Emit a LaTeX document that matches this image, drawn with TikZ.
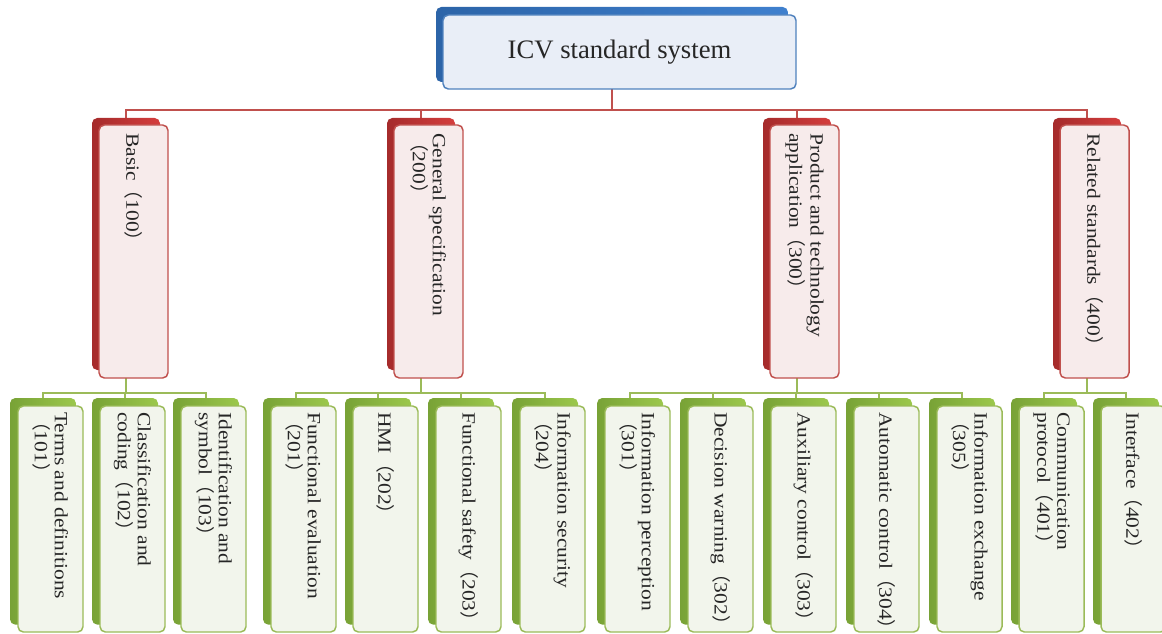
\documentclass[tikz,border=0pt]{standalone}
\usepackage{fontspec}
\setmainfont{Liberation Serif}
\newfontfamily\boxfont[FakeStretch=1.15]{Liberation Serif}
\newfontfamily\cjk{Noto Sans CJK SC}
\usetikzlibrary{backgrounds}

\definecolor{cBlue}{HTML}{3F80CE}
\definecolor{cBlueDk}{HTML}{2C64A8}
\definecolor{cBlueLine}{HTML}{4F81BD}
\definecolor{cBlueFill}{HTML}{E9EEF7}
\definecolor{cRed}{HTML}{D43D3D}
\definecolor{cRedDk}{HTML}{A52B2B}
\definecolor{cRedLine}{HTML}{C0504D}
\definecolor{cRedFill}{HTML}{F7EBEB}
\definecolor{cGreen}{HTML}{9CC84C}
\definecolor{cGreenDk}{HTML}{78A236}
\definecolor{cGreenLine}{HTML}{9BBB59}
\definecolor{cGreenFill}{HTML}{F2F5EC}
\definecolor{cText}{HTML}{262626}

% code number in full-width brackets
\newcommand{\sno}[1]{{\cjk （}#1{\cjk ）}}

\tikzset{
  box/.style={rectangle, rounded corners=4pt, inner sep=0pt, outer sep=0pt, anchor=north west},
  rootback/.style={box, left color=cBlueDk, right color=cBlue, minimum width=264pt, minimum height=56.25pt},
  rootfront/.style={box, draw=cBlueLine, line width=1.1pt, fill=cBlueFill, text=cText,
    minimum width=264.75pt, minimum height=55.5pt, font=\fontsize{20}{24}\selectfont},
  catback/.style={box, left color=cRedDk, right color=cRed, minimum width=51pt, minimum height=189pt},
  catfront/.style={box, draw=cRedLine, line width=1.1pt, fill=cRedFill, minimum width=51.75pt, minimum height=189.75pt},
  itemback/.style={box, left color=cGreenDk, right color=cGreen, minimum width=49.5pt, minimum height=170pt},
  itemfront/.style={box, draw=cGreenLine, line width=1.1pt, fill=cGreenFill, minimum width=48.75pt, minimum height=169.5pt},
  cattext/.style={rotate=-90, anchor=west, align=left, inner xsep=6pt, inner ysep=0pt, text=cText,
    font=\boxfont\fontsize{14}{15}\selectfont},
  itemtext/.style={cattext, inner xsep=4.5pt},
  redconn/.style={draw=cRedLine, line width=1.3pt},
  greenconn/.style={draw=cGreenLine, line width=1.3pt},
}

\begin{document}
\begin{tikzpicture}[x=0.75pt, y=-0.75pt]
\useasboundingbox (0,0) rectangle (1162,634);

% top
\node[rootback] (root) at (436,7) {};
\node[rootfront] (rootf) at (443,15) {ICV standard system};

% second level
\node[catback] (basic) at (92,118) {};
\node[catfront] (basicf) at (99,125) {};
\node[cattext] (basict) at (basicf.north) {Basic\sno{100}};

\node[catback] (general) at (387,118) {};
\node[catfront] (generalf) at (394,125) {};
\node[cattext] (generalt) at (generalf.north) {General specification\\\sno{200}};

\node[catback] (product) at (763,118) {};
\node[catfront] (productf) at (770,125) {};
\node[cattext] (productt) at (productf.north) {Product and technology\\application\sno{300}};

\node[catback] (related) at (1053,118) {};
\node[catfront] (relatedf) at (1060,125) {};
\node[cattext] (relatedt) at (relatedf.north) {Related standards\sno{400}};

% third level
\node[itemback] (i101) at (10,398) {};
\node[itemfront] (i101f) at (18,406) {};
\node[itemtext] (i101t) at (i101f.north) {Terms and definitions\\\sno{101}};
\node[itemback] (i102) at (92,398) {};
\node[itemfront] (i102f) at (100,406) {};
\node[itemtext] (i102t) at (i102f.north) {Classification and\\coding\sno{102}};
\node[itemback] (i103) at (173,398) {};
\node[itemfront] (i103f) at (181,406) {};
\node[itemtext] (i103t) at (i103f.north) {Identification and\\symbol\sno{103}};

\node[itemback] (i201) at (263,398) {};
\node[itemfront] (i201f) at (271,406) {};
\node[itemtext] (i201t) at (i201f.north) {Functional evaluation\\\sno{201}};
\node[itemback] (i202) at (345,398) {};
\node[itemfront] (i202f) at (353,406) {};
\node[itemtext] (i202t) at (i202f.north) {HMI\sno{202}};
\node[itemback] (i203) at (428,398) {};
\node[itemfront] (i203f) at (436,406) {};
\node[itemtext] (i203t) at (i203f.north) {Functional safety\sno{203}};
\node[itemback] (i204) at (512,398) {};
\node[itemfront] (i204f) at (520,406) {};
\node[itemtext] (i204t) at (i204f.north) {Information security\\\sno{204}};

\node[itemback] (i301) at (597,398) {};
\node[itemfront] (i301f) at (605,406) {};
\node[itemtext] (i301t) at (i301f.north) {Information perception\\\sno{301}};
\node[itemback] (i302) at (680,398) {};
\node[itemfront] (i302f) at (688,406) {};
\node[itemtext] (i302t) at (i302f.north) {Decision warning\sno{302}};
\node[itemback] (i303) at (763,398) {};
\node[itemfront] (i303f) at (771,406) {};
\node[itemtext] (i303t) at (i303f.north) {Auxiliary control\sno{303}};
\node[itemback] (i304) at (846,398) {};
\node[itemfront] (i304f) at (854,406) {};
\node[itemtext] (i304t) at (i304f.north) {Automatic control\sno{304}};
\node[itemback] (i305) at (929,398) {};
\node[itemfront] (i305f) at (937,406) {};
\node[itemtext] (i305t) at (i305f.north) {Information exchange\\\sno{305}};

\node[itemback] (i401) at (1011,398) {};
\node[itemfront] (i401f) at (1019,406) {};
\node[itemtext] (i401t) at (i401f.north) {Communication\\protocol\sno{401}};
\node[itemback] (i402) at (1093,398) {};
\node[itemfront] (i402f) at (1101,406) {};
\node[itemtext] (i402t) at (i402f.north) {Interface\sno{402}};

% connectors behind the boxes
\begin{scope}[on background layer]
\coordinate (rhub) at (root.south |- 0,110);
\draw[redconn] (root.south) -- (rhub);
\draw[redconn] (rhub) -| (basic.north);
\draw[redconn] (rhub) -| (general.north);
\draw[redconn] (rhub) -| (product.north);
\draw[redconn] (rhub) -| (related.north);

\coordinate (h100) at (basic.south |- 0,393);
\draw[greenconn] (basic.south) -- (h100);
\draw[greenconn] (h100) -| (i101.north);
\draw[greenconn] (h100) -| (i102.north);
\draw[greenconn] (h100) -| (i103.north);

\coordinate (h200) at (general.south |- 0,393);
\draw[greenconn] (general.south) -- (h200);
\draw[greenconn] (h200) -| (i201.north);
\draw[greenconn] (h200) -| (i202.north);
\draw[greenconn] (h200) -| (i203.north);
\draw[greenconn] (h200) -| (i204.north);

\coordinate (h300) at (product.south |- 0,393);
\draw[greenconn] (product.south) -- (h300);
\draw[greenconn] (h300) -| (i301.north);
\draw[greenconn] (h300) -| (i302.north);
\draw[greenconn] (h300) -| (i303.north);
\draw[greenconn] (h300) -| (i304.north);
\draw[greenconn] (h300) -| (i305.north);

\coordinate (h400) at (related.south |- 0,393);
\draw[greenconn] (related.south) -- (h400);
\draw[greenconn] (h400) -| (i401.north);
\draw[greenconn] (h400) -| (i402.north);
\end{scope}

\end{tikzpicture}
\end{document}
